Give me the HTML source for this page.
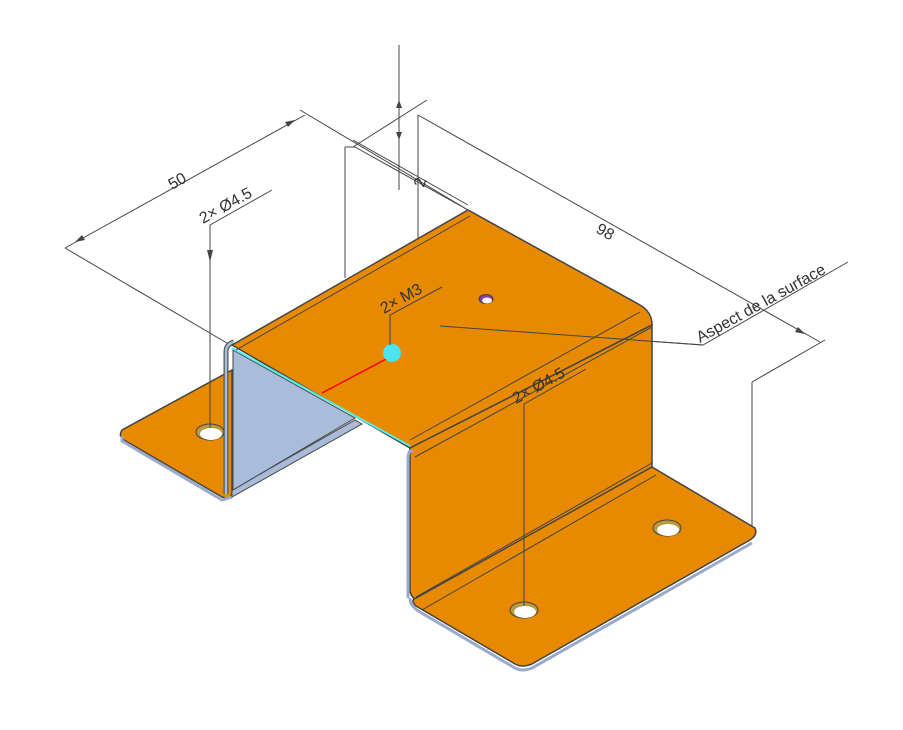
<!DOCTYPE html>
<html><head><style>html,body{margin:0;padding:0;background:#fff}svg{display:block}</style></head>
<body>
<svg width="903" height="730" viewBox="0 0 903 730" xmlns="http://www.w3.org/2000/svg" font-family="Liberation Sans, sans-serif">
<g stroke="#444" stroke-width="1" fill="none">
<line x1="65" y1="248" x2="305" y2="115"/>
<line x1="65" y1="248" x2="232" y2="346"/>
<line x1="300" y1="110" x2="468" y2="210"/>
<line x1="345" y1="147" x2="345" y2="278"/>
<line x1="345" y1="147" x2="355" y2="147"/>
<line x1="353" y1="147" x2="427" y2="100"/>
<line x1="355" y1="147" x2="468" y2="210"/>
<line x1="353" y1="140" x2="468" y2="205"/>
<line x1="399" y1="45" x2="399" y2="190"/>
<line x1="418" y1="115" x2="418" y2="240"/>
<line x1="418" y1="115" x2="820" y2="342"/>
<line x1="825" y1="340" x2="752" y2="382"/>
<line x1="752" y1="382" x2="752" y2="530"/>
<polyline points="210,430 210,225 272,190"/>
<polyline points="390,345 390,315 442,287"/>
<polyline points="524,606 524,404 586,369"/>
<polyline points="440,326 703,345 848,262"/>
</g>
<g fill="#444">
<polygon points="210,262 207,250 213,250"/>
<polygon points="390,340 387,330 393,330"/>
<polygon points="524,440 521,430 527,430"/>
<polygon points="399,100 396,108 402,108"/>
<polygon points="399,140 396,132 402,132"/>
<polygon points="805,334 795,332 798,327"/>
<polygon points="75,242 85,240 82,235"/>
<polygon points="295,120 285,122 288,127"/>
</g>
<path d="M232,370 L122,430 Q118,436 124,440 L222,497 Q230,500 232,494 Z" fill="#e88a00" stroke="#444" stroke-width="1.5"/>
<path d="M122,436 L122,441 L222,500 L232,497" fill="none" stroke="#9aaacc" stroke-width="3"/>
<path d="M232,490 L355,420 L362,424 L232,497 Z" fill="#a9bbd8" stroke="#444"/>
<polygon points="233,350 355,418 233,490" fill="#aabcdc" stroke="#444"/>
<path d="M226,494 L226,352 Q226,344 234,342" fill="none" stroke="#555" stroke-width="5"/>
<path d="M226,494 L226,352 Q226,344 234,342" fill="none" stroke="#aabcdc" stroke-width="2.5"/>
<path d="M232,345 L468,210 L640,305 Q652,312 652,325 L410,448 Z" fill="#e88a00" stroke="#444" stroke-width="1.5"/>
<line x1="232" y1="348" x2="410" y2="446" stroke="#5ee" stroke-width="2"/>
<line x1="236" y1="350" x2="470" y2="216" stroke="#444"/>
<path d="M410,448 L652,325 L652,467 L416,600 Q410,596 410,590 Z" fill="#e88a00" stroke="#444" stroke-width="1.5"/>
<path d="M413,452 Q408,448 408,460 L408,598" fill="none" stroke="#9aaacc" stroke-width="3"/>
<line x1="410" y1="440" x2="640" y2="312" stroke="#444"/>
<line x1="415" y1="457" x2="652" y2="327" stroke="#444"/>
<path d="M652,467 L755,528 Q758,535 750,540 L532,664 Q522,668 515,664 L416,606 Q410,600 416,598 Z" fill="#e88a00" stroke="#444" stroke-width="1.5"/>
<path d="M410,598 Q410,606 420,612 L515,668 Q522,672 532,668 L752,543" fill="none" stroke="#9aaacc" stroke-width="3"/>
<line x1="416" y1="597" x2="652" y2="463" stroke="#444"/>
<line x1="422" y1="610" x2="656" y2="475" stroke="#444"/>
<g stroke="#444">
<ellipse cx="210" cy="432" rx="14" ry="8" fill="#b89a40"/>
<ellipse cx="211" cy="434" rx="11" ry="6" fill="#fff" stroke="none"/>
<ellipse cx="667" cy="528" rx="14" ry="8" fill="#b89a40"/>
<ellipse cx="668" cy="530" rx="11" ry="6" fill="#fff" stroke="none"/>
<ellipse cx="524" cy="610" rx="14" ry="8" fill="#b89a40"/>
<ellipse cx="525" cy="612" rx="11" ry="6" fill="#fff" stroke="none"/>
<ellipse cx="486" cy="299" rx="7" ry="4.5" fill="#8a3aa0"/>
<ellipse cx="487" cy="300.5" rx="5" ry="3" fill="#fff" stroke="none"/>
</g>
<line x1="322" y1="393" x2="390" y2="357" stroke="#f00" stroke-width="1.5"/>
<circle cx="392" cy="353" r="9" fill="#4de3f0"/>
<g stroke="#444" fill="none"><polyline points="390,345 390,315 442,287"/><polyline points="524,606 524,404 586,369"/><polyline points="440,326 703,345"/><line x1="210" y1="300" x2="210" y2="428"/></g>
<g fill="#333" font-size="16">
<text transform="translate(172,190) rotate(-29)">50</text>
<text transform="translate(203,224) rotate(-29)">2× Ø4.5</text>
<text transform="translate(384,314) rotate(-29)">2× M3</text>
<text transform="translate(516,404) rotate(-29)">2× Ø4.5</text>
<text transform="translate(700,343) rotate(-29)">Aspect de la surface</text>
<text transform="translate(595,232) rotate(29)">98</text>
<text transform="translate(424,188) rotate(-75)">2</text>
</g>
</svg>
</body></html>
